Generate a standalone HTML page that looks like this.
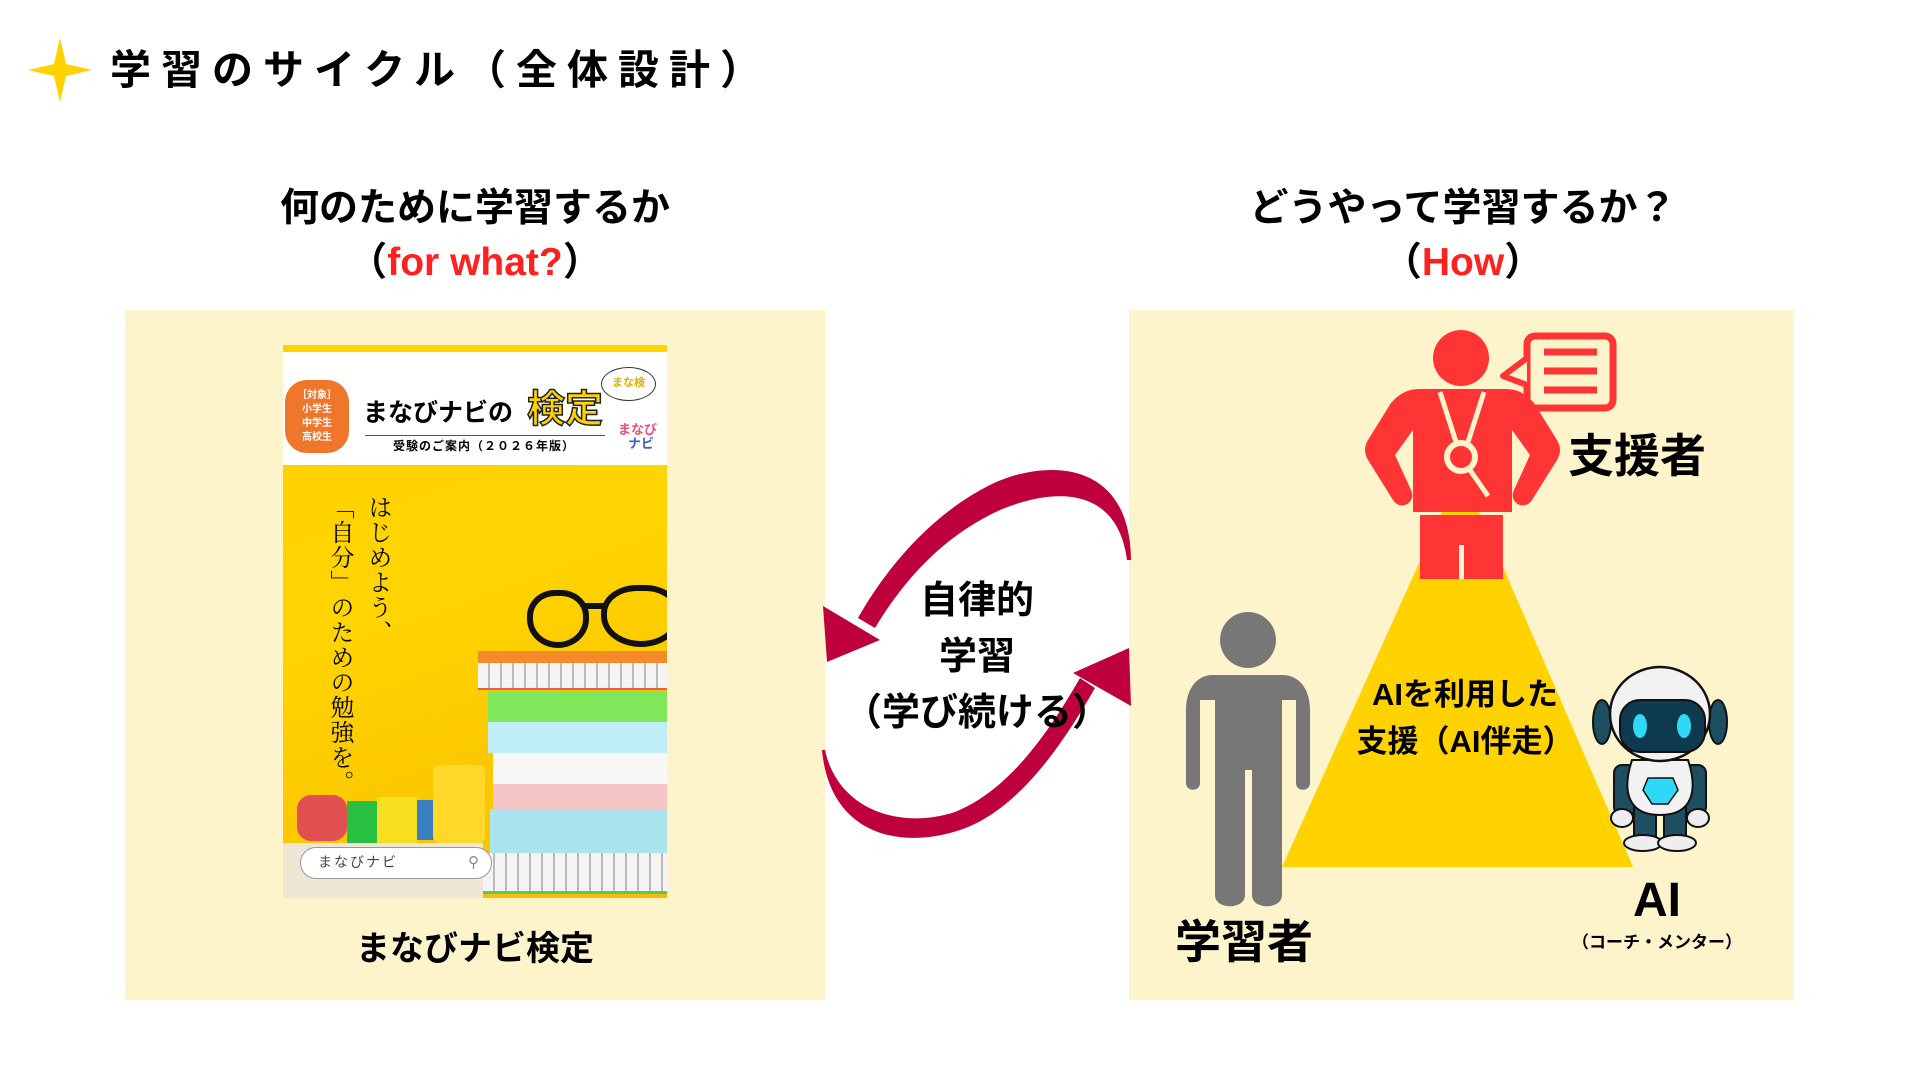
<!DOCTYPE html>
<html><head><meta charset="utf-8">
<style>
*{margin:0;padding:0;box-sizing:border-box}
body{width:1920px;height:1080px;background:#fff;position:relative;overflow:hidden;font-family:"Liberation Sans","Noto Sans CJK JP",sans-serif;color:#000}
.a{position:absolute}
.c{text-align:center;white-space:nowrap}
.b{font-weight:bold}
.red{color:#ff2020}
</style></head><body>

<svg class="a" style="left:28px;top:38px" width="64" height="64" viewBox="0 0 64 64"><path d="M32 0 L38 26 L64 32 L38 38 L32 64 L26 38 L0 32 L26 26 Z" fill="#ffd200"/></svg>
<div class="a b" style="left:110px;top:45px;font-size:41px;letter-spacing:10px;line-height:50px">学習のサイクル（全体設計）</div>

<div class="a c b" style="left:175px;width:600px;top:186px;font-size:39px;line-height:46px">何のために学習するか</div>
<div class="a c b" style="left:175px;width:600px;top:240px;font-size:39px;line-height:46px">（<span class="red">for what?</span>）</div>

<div class="a c b" style="left:1163px;width:600px;top:186px;font-size:39px;line-height:46px">どうやって学習するか？</div>
<div class="a c b" style="left:1163px;width:600px;top:240px;font-size:39px;line-height:46px">（<span class="red">How</span>）</div>

<div class="a" style="left:125px;top:310px;width:700px;height:690px;background:#fdf4cb"></div>
<div class="a" style="left:1129px;top:310px;width:665px;height:690px;background:#fdf4cb"></div>

<div class="a" style="left:283px;top:345px;width:384px;height:553px;overflow:hidden;background:linear-gradient(160deg,#ffd200 0%,#ffd400 45%,#f9bb00 100%)">
  <div class="a" style="left:0;top:0;width:384px;height:7px;background:#ffd200"></div>
  <div class="a" style="left:0;top:7px;width:384px;height:113px;background:#fff"></div>
  <div class="a c b" style="left:2px;top:35px;width:64px;height:73px;border-radius:22px;background:#f0762c;color:#fff;font-size:10px;line-height:14px;padding-top:9px">［対象］<br>小学生<br>中学生<br>高校生</div>
  <div class="a b" style="left:80px;top:53px;font-size:25px;line-height:30px">まなびナビの</div>
  <div class="a b" style="left:244px;top:44px;font-size:38px;line-height:42px;color:#ffd200;-webkit-text-stroke:1.5px #222">検定</div>
  <div class="a" style="left:318px;top:22px;width:55px;height:34px;border:1.5px solid #333;border-radius:50%;background:#fff;font-size:11px;color:#e0b000;font-weight:bold;text-align:center;line-height:31px">まな検</div>
  <div class="a" style="left:82px;top:90px;width:240px;height:1px;background:#555"></div>
  <div class="a b" style="left:110px;top:93px;font-size:12px;line-height:16px;letter-spacing:1px">受験のご案内（２０２６年版）</div>
  <div class="a b" style="left:335px;top:78px;font-size:13px;line-height:14px;color:#e85080">まなび<br><span style="color:#4060c0;padding-left:10px">ナビ</span></div>
  <div class="a" style="left:37px;top:150px;writing-mode:vertical-rl;font-family:'Liberation Serif','Noto Serif CJK JP',serif;font-size:24px;line-height:38px;letter-spacing:1px;height:330px">はじめよう、<br>「自分」のための勉強を。</div>
  <div class="a" style="left:244px;top:245px;width:62px;height:58px;border:6px solid #111;border-radius:45% 45% 50% 50%"></div>
  <div class="a" style="left:318px;top:240px;width:80px;height:62px;border:6px solid #111;border-radius:45% 45% 50% 50%"></div>
  <div class="a" style="left:300px;top:258px;width:22px;height:6px;background:#111"></div>
  <div class="a" style="left:195px;top:306px;width:189px;height:12px;background:#f58a2a"></div>
  <div class="a" style="left:195px;top:318px;width:189px;height:27px;background:#f4f4f4;border-bottom:2px solid #e55;background-image:repeating-linear-gradient(90deg,transparent 0 10px,#bbb 10px 12px)"></div>
  <div class="a" style="left:205px;top:346px;width:179px;height:31px;background:#7ee85a"></div>
  <div class="a" style="left:205px;top:377px;width:179px;height:31px;background:#bfeef7"></div>
  <div class="a" style="left:210px;top:408px;width:174px;height:31px;background:#f7f7f7"></div>
  <div class="a" style="left:210px;top:439px;width:174px;height:25px;background:#f6c6c6"></div>
  <div class="a" style="left:207px;top:464px;width:177px;height:44px;background:#a9e4ef"></div>
  <div class="a" style="left:200px;top:508px;width:184px;height:41px;background:#f4f4f4;border-bottom:3px solid #5c5;background-image:repeating-linear-gradient(90deg,transparent 0 10px,#bbb 10px 12px)"></div>
  <div class="a" style="left:14px;top:450px;width:50px;height:46px;background:#e05050;border-radius:14px"></div>
  <div class="a" style="left:64px;top:456px;width:30px;height:42px;background:#27c040"></div>
  <div class="a" style="left:94px;top:452px;width:40px;height:46px;background:#f6de20"></div>
  <div class="a" style="left:134px;top:455px;width:20px;height:40px;background:#3a80c0"></div>
  <div class="a" style="left:150px;top:420px;width:52px;height:78px;background:#ffd82a;border-radius:6px"></div>
  <div class="a" style="left:0;top:498px;width:200px;height:55px;background:#efe6d6"></div>
  <div class="a" style="left:17px;top:502px;width:192px;height:32px;background:#fff;border:1.5px solid #999;border-radius:16px;font-size:14px;line-height:29px;padding-left:17px;color:#444;letter-spacing:2px">まなびナビ<span style="position:absolute;right:10px;top:0;font-size:15px;color:#888">&#9906;</span></div>
</div>
<div class="a c b" style="left:175px;width:600px;top:926px;font-size:34px;line-height:46px">まなびナビ検定</div>

<svg class="a" style="left:0;top:0" width="1920" height="1080">
  <path d="M1131 560 C1130 455 1040 460 990 485 C930 515 885 570 858 618 L875 628 C905 578 945 535 1000 510 C1060 485 1118 490 1127 560 Z" fill="#be003c"/>
  <path d="M827 662 L823 606 L880 640 Z" fill="#be003c"/>
  <path d="M822 750 C830 835 900 850 960 830 C1020 810 1065 740 1095 688 L1080 678 C1050 730 1010 790 955 812 C900 830 838 810 825 750 Z" fill="#be003c"/>
  <path d="M1129 648 L1073 673 L1131 706 Z" fill="#be003c"/>
</svg>
<div class="a c b" style="left:827px;width:300px;top:578px;font-size:38px;line-height:46px">自律的</div>
<div class="a c b" style="left:827px;width:300px;top:634px;font-size:38px;line-height:46px">学習</div>
<div class="a c b" style="left:827px;width:300px;top:690px;font-size:38px;line-height:46px">（学び続ける）</div>

<svg class="a" style="left:0;top:0" width="1920" height="1080">
  <polygon points="1461,470 1633,867 1282,867" fill="#ffd200"/>
  <circle cx="1461" cy="358" r="28" fill="#ff3535"/>
  <path d="M1420 389 L1505 389 C1518 389 1526 394 1534 403 L1557 440 C1561 447 1561 453 1557 460 L1532 500 C1524 512 1508 502 1514 490 L1530 455 L1512 430 L1512 512 L1413 512 L1413 430 L1395 455 L1411 490 C1417 502 1401 512 1393 500 L1368 460 C1364 453 1364 447 1368 440 L1391 403 C1399 394 1407 389 1420 389 Z" fill="#ff3535"/>
  <path d="M1440 392 L1456 442 M1484 392 L1468 442 M1470 470 L1488 496" stroke="#fdf4cb" stroke-width="5" fill="none"/>
  <circle cx="1461" cy="457" r="14" fill="none" stroke="#fdf4cb" stroke-width="6"/>
  <rect x="1420" y="515" width="83" height="64" fill="#ff3535"/>
  <rect x="1459" y="545" width="5" height="34" fill="#fdf4cb"/>
  <rect x="1527" y="336" width="86" height="72" rx="8" fill="none" stroke="#ff3535" stroke-width="7"/>
  <path d="M1527 358 L1503 376 L1527 385" fill="#fdf4cb" stroke="#ff3535" stroke-width="6" stroke-linejoin="round"/>
  <path d="M1544 352 H1597 M1544 371 H1597 M1544 390 H1597" stroke="#ff3535" stroke-width="7"/>
  <circle cx="1248" cy="640" r="28" fill="#777"/>
  <path d="M1213 675 L1282 675 C1300 675 1310 690 1310 710 L1310 783 C1310 792 1296 792 1296 783 L1296 700 L1282 700 L1282 895 C1282 910 1252 910 1252 895 L1252 770 L1245 770 L1245 895 C1245 910 1215 910 1215 895 L1215 700 L1200 700 L1200 783 C1200 792 1186 792 1186 783 L1186 710 C1186 690 1196 675 1213 675 Z" fill="#777"/>
  <ellipse cx="1602" cy="722" rx="9" ry="22" fill="#1d4f60" stroke="#111" stroke-width="2"/>
  <ellipse cx="1718" cy="722" rx="9" ry="22" fill="#1d4f60" stroke="#111" stroke-width="2"/>
  <rect x="1614" y="765" width="22" height="50" rx="8" fill="#1d4f60" stroke="#111" stroke-width="2"/>
  <rect x="1684" y="765" width="22" height="50" rx="8" fill="#1d4f60" stroke="#111" stroke-width="2"/>
  <ellipse cx="1622" cy="818" rx="11" ry="9" fill="#eee" stroke="#111" stroke-width="2"/>
  <ellipse cx="1698" cy="818" rx="11" ry="9" fill="#eee" stroke="#111" stroke-width="2"/>
  <rect x="1634" y="805" width="22" height="34" fill="#1d4f60" stroke="#111" stroke-width="2"/>
  <rect x="1664" y="805" width="22" height="34" fill="#1d4f60" stroke="#111" stroke-width="2"/>
  <ellipse cx="1643" cy="843" rx="19" ry="8" fill="#eee" stroke="#111" stroke-width="2"/>
  <ellipse cx="1677" cy="843" rx="19" ry="8" fill="#eee" stroke="#111" stroke-width="2"/>
  <path d="M1632 760 H1688 C1698 790 1693 815 1660 815 C1627 815 1622 790 1632 760 Z" fill="#f2f2f2" stroke="#111" stroke-width="2"/>
  <path d="M1648 778 H1673 L1678 790 L1668 804 H1652 L1643 790 Z" fill="#30d8f8" stroke="#111" stroke-width="1.5"/>
  <ellipse cx="1660" cy="714" rx="50" ry="47" fill="#f2f2f2" stroke="#111" stroke-width="2.5"/>
  <rect x="1620" y="700" width="85" height="52" rx="20" fill="#0d3a4e" stroke="#111" stroke-width="2"/>
  <ellipse cx="1640" cy="726" rx="7" ry="12" fill="#30d8f8"/>
  <ellipse cx="1684" cy="726" rx="7" ry="12" fill="#30d8f8"/>
</svg>
<div class="a b" style="left:1568px;top:428px;font-size:46px;line-height:56px">支援者</div>
<div class="a b" style="left:1175px;top:914px;font-size:46px;line-height:56px">学習者</div>
<div class="a c b" style="left:1557px;width:200px;top:874px;font-size:48px;line-height:54px">AI</div>
<div class="a c b" style="left:1557px;width:200px;top:932px;font-size:17px;line-height:22px">（コーチ・メンター）</div>
<div class="a c b" style="left:1315px;width:300px;top:675px;font-size:31px;line-height:40px">AIを利用した</div>
<div class="a c b" style="left:1315px;width:300px;top:722px;font-size:31px;line-height:40px">支援（AI伴走）</div>

</body></html>
